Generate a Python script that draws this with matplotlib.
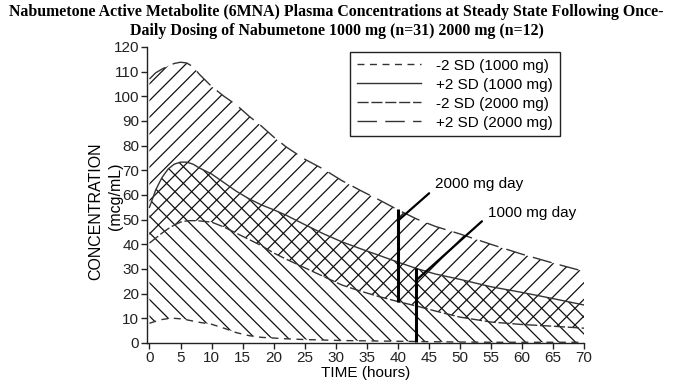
import matplotlib
matplotlib.use('Agg')
import matplotlib.pyplot as plt
import numpy as np

# time grid (hours) and the four SD curves (mcg/mL)
hours = [0, 1, 2, 3, 4, 5, 6, 7, 8, 10, 12, 14, 16, 18, 20, 22, 25, 28, 31,
         34, 37, 40, 43, 46, 50, 55, 60, 65, 70]
lo_1000 = [8, 8.8, 9.5, 9.9, 10, 9.8, 9.4, 8.9, 8.4, 7.6, 6, 4.2, 3, 2.3, 2,
           1.7, 1.4, 1.2, 1, 0.9, 0.8, 0.7, 0.6, 0.5, 0.4, 0.3, 0.3, 0.3, 0.3]
hi_1000 = [55, 62, 67, 70.5, 72.5, 73.3, 73.3, 72.5, 71, 68.5, 65, 61.5, 58.5,
           56, 54, 51.8, 48, 44.3, 41, 38.2, 35.5, 32.8, 30.2, 28, 25.8, 22.8,
           20.5, 18, 15.4]
lo_2000 = [40.5, 42.5, 44.5, 46.3, 47.8, 49, 49.5, 49.6, 49.5, 49, 47, 44.5,
           42, 39.5, 36.5, 34, 30.5, 27, 23.5, 21, 18.8, 16.8, 15, 13, 10.5,
           8.5, 7.5, 6.8, 6]
hi_2000 = [107, 109.5, 111, 112.3, 113.3, 113.8, 113.5, 112, 109, 104, 100,
           96.5, 92, 88, 83.5, 79.5, 74.5, 70.5, 65.8, 61.8, 58, 54, 50.3,
           47.3, 44.2, 40, 36, 32.4, 29]

# "dosing day" bars: time, bottom, top
bar_labels = ['2000 mg day', '1000 mg day']
bar_time = [40, 43]
bar_bottom = [16.8, 0.5]
bar_top = [54.5, 30.2]

t = np.array(hours)

plt.rcParams['hatch.linewidth'] = 0.9
plt.rcParams['hatch.color'] = '#111111'

fig = plt.figure(figsize=(6.73, 3.85), dpi=100)
ax = fig.add_axes([0.2184, 0.1091, 0.6494, 0.769])

ax.fill_between(t, lo_2000, hi_2000, facecolor='none', edgecolor='#111111',
                hatch='//', linewidth=0, zorder=1)
ax.fill_between(t, lo_1000, hi_1000, facecolor='none', edgecolor='#111111',
                hatch='\\\\', linewidth=0, zorder=1)

lc = '#333333'
ax.plot(t, lo_1000, color=lc, lw=1.0, ls=(0, (5, 4)), label='-2 SD (1000 mg)', zorder=2)
ax.plot(t, hi_1000, color=lc, lw=1.0, ls='-', label='+2 SD (1000 mg)', zorder=2)
ax.plot(t, lo_2000, color=lc, lw=1.0, ls=(0, (8, 2)), label='-2 SD (2000 mg)', zorder=2)
ax.plot(t, hi_2000, color=lc, lw=1.0, ls=(0, (14, 6)), label='+2 SD (2000 mg)', zorder=2)

ax.vlines(bar_time, bar_bottom, bar_top, colors='black', lw=2.2, zorder=3)

ax.annotate(bar_labels[0], xy=(bar_time[0], 49.5), xytext=(46, 64.5),
            fontsize=11, family='Liberation Sans', va='center', ha='left',
            arrowprops=dict(arrowstyle='-', lw=1.6, color='black',
                            relpos=(0, 0.2), shrinkA=3, shrinkB=0))
ax.annotate(bar_labels[1], xy=(bar_time[1], 25.5), xytext=(54.5, 52.6),
            fontsize=11, family='Liberation Sans', va='center', ha='left',
            arrowprops=dict(arrowstyle='-', lw=1.6, color='black',
                            relpos=(0, 0.3), shrinkA=3, shrinkB=0))

ax.set_xlim(-0.4, 70)
ax.set_ylim(0, 120)
ax.set_xticks(np.arange(0, 71, 5))
ax.set_yticks(np.arange(0, 121, 10))
ax.spines['top'].set_visible(False)
ax.spines['right'].set_visible(False)
for s in ['left', 'bottom']:
    ax.spines[s].set_linewidth(1.0)
    ax.spines[s].set_color('#222222')
ax.tick_params(direction='out', length=4, width=1.0, colors='#222222',
               labelsize=11, pad=1.5)
for lab in ax.get_xticklabels() + ax.get_yticklabels():
    lab.set_family('Liberation Sans')

ax.set_xlabel('TIME (hours)', fontsize=11, family='Liberation Sans', labelpad=1)
fig.text(0.1426, 0.452, 'CONCENTRATION', rotation=90, ha='center', va='center',
         fontsize=11.5, family='Liberation Sans')
fig.text(0.171, 0.491, '(mcg/mL)', rotation=90, ha='center', va='center',
         fontsize=11.5, family='Liberation Sans')

leg = ax.legend(loc='upper right', bbox_to_anchor=(0.945, 0.983),
                borderaxespad=0, handlelength=4.2, handletextpad=1.0,
                labelspacing=0.32, borderpad=0.45, fancybox=False, framealpha=1,
                prop={'family': 'Liberation Sans', 'size': 11})
leg.get_frame().set_edgecolor('#222222')
leg.get_frame().set_linewidth(1.0)

fig.text(0.5, 0.99, 'Nabumetone Active Metabolite (6MNA) Plasma Concentrations at Steady State Following Once-\n'
         'Daily Dosing of Nabumetone 1000 mg (n=31) 2000 mg (n=12)',
         ha='center', va='top', fontsize=11.4, fontweight='bold',
         family='Liberation Serif', linespacing=1.3)

fig.savefig('out.png', dpi=100)
